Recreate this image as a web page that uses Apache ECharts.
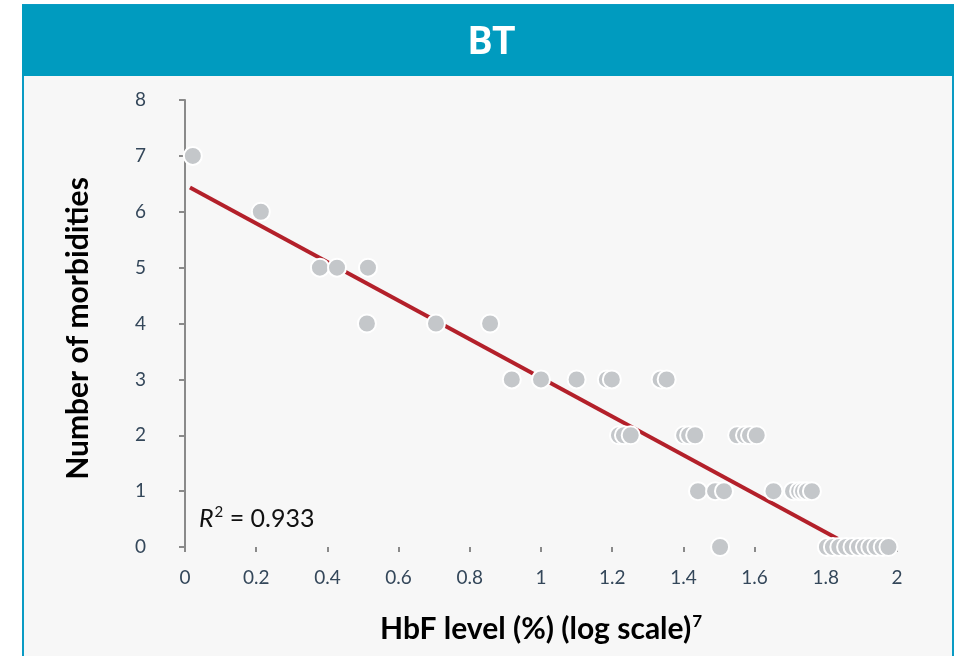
<!DOCTYPE html>
<html>
<head>
<meta charset="utf-8">
<script src="https://cdn.jsdelivr.net/npm/echarts@6/dist/echarts.min.js"></script>
<style>
html,body{margin:0;padding:0;background:#ffffff;}
#chart{width:959px;height:656px;}
</style>
</head>
<body>
<div id="chart"></div>
<script>
// HbF level (log scale) and number of morbidities for each patient
const hbfLevel = [
  0.022,
  0.213,
  0.379, 0.427, 0.514,
  0.511, 0.705, 0.857,
  0.918, 1.000, 1.100, 1.185, 1.199, 1.336, 1.353,
  1.219, 1.233, 1.252, 1.402, 1.416, 1.433, 1.551, 1.573, 1.587, 1.606,
  1.441, 1.489, 1.514, 1.653, 1.708, 1.725, 1.736, 1.747, 1.761,
  1.503, 1.803, 1.820, 1.838, 1.857, 1.875, 1.893, 1.910, 1.925, 1.942, 1.960, 1.976
];
const morbidities = [
  7,
  6,
  5, 5, 5,
  4, 4, 4,
  3, 3, 3, 3, 3, 3, 3,
  2, 2, 2, 2, 2, 2, 2, 2, 2, 2,
  1, 1, 1, 1, 1, 1, 1, 1, 1,
  0, 0, 0, 0, 0, 0, 0, 0, 0, 0, 0, 0
];
// linear trend line end points
const trendX = [0.014, 1.876];
const trendY = [6.435, 0];
const xTicks = [0, 0.2, 0.4, 0.6, 0.8, 1, 1.2, 1.4, 1.6, 1.8, 2];
const yTicks = [0, 1, 2, 3, 4, 5, 6, 7, 8];
const rSquared = '0.933';

const chart = echarts.init(document.getElementById('chart'), null, {renderer: 'canvas'});
const font = 'Lato, "Open Sans", sans-serif';
const labelColor = '#34475a';

const option = {
  animation: false,
  backgroundColor: '#ffffff',
  title: {
    text: 'BT',
    left: 487,
    textAlign: 'center',
    top: 20,
    textStyle: {color: '#ffffff', fontFamily: 'Roboto, sans-serif', fontWeight: 'bold', fontSize: 38}
  },
  graphic: [
    {type: 'rect', z: -10, shape: {x: 23, y: 5, width: 930, height: 660},
      style: {fill: '#f7f7f7', stroke: '#0a9bc4', lineWidth: 2}},
    {type: 'rect', z: -9, shape: {x: 22, y: 5, width: 932, height: 71},
      style: {fill: '#009bbf'}},
    {type: 'text', left: 199, top: 505, z: 10,
      style: {
        text: '{r|R}{s|2}{n| = ' + rSquared + '}',
        rich: {
          r: {fontFamily: font, fontSize: 25, fontStyle: 'italic', fill: '#111'},
          s: {fontFamily: font, fontSize: 15, fill: '#111', verticalAlign: 'top', padding: [0, 0, 12, 1]},
          n: {fontFamily: font, fontSize: 25, fill: '#111'}
        }
      }}
  ],
  grid: {left: 185, right: 62, top: 100, bottom: 109},
  xAxis: {
    type: 'value', min: 0, max: 2, interval: 0.2, offset: 3,
    name: '{a|HbF level (%) (log scale)}{b|7}',
    nameLocation: 'middle', nameGap: 63,
    nameTextStyle: {
      rich: {
        a: {fontFamily: font, fontWeight: 'bold', fontSize: 30, color: '#000'},
        b: {fontFamily: font, fontWeight: 'bold', fontSize: 17, color: '#000', verticalAlign: 'top', padding: [0, 0, 16, 1]}
      }
    },
    axisLine: {show: false},
    axisTick: {show: true, length: 5, lineStyle: {color: '#8a8a8a', width: 2}},
    axisLabel: {margin: 18, fontFamily: font, fontSize: 19, color: labelColor,
      formatter: v => String(xTicks.find(t => Math.abs(t - v) < 1e-6) ?? v)},
    splitLine: {show: false}
  },
  yAxis: {
    type: 'value', min: 0, max: 8, interval: 1, offset: 12,
    name: 'Number of morbidities',
    nameLocation: 'middle', nameGap: 80,
    nameTextStyle: {fontFamily: font, fontWeight: 'bold', fontSize: 30, color: '#000', padding: [0, 10, 0, 0]},
    axisLine: {show: true, lineStyle: {color: '#8a8a8a', width: 2}},
    axisTick: {show: true, length: 6, lineStyle: {color: '#8a8a8a', width: 2}},
    axisLabel: {margin: 27, fontFamily: font, fontSize: 19, color: labelColor,
      formatter: v => String(yTicks.find(t => t === v) ?? v)},
    splitLine: {show: false}
  },
  series: [
    {
      type: 'line', z: 2,
      data: trendX.map((x, i) => [x, trendY[i]]),
      symbol: 'none',
      lineStyle: {color: '#b3202a', width: 4}
    },
    {
      type: 'scatter', z: 3,
      data: hbfLevel.map((x, i) => [x, morbidities[i]]),
      symbolSize: 18,
      itemStyle: {color: '#c4c7ca', borderColor: '#ffffff', borderWidth: 2, opacity: 1}
    }
  ]
};
chart.setOption(option);
</script>
</body>
</html>
